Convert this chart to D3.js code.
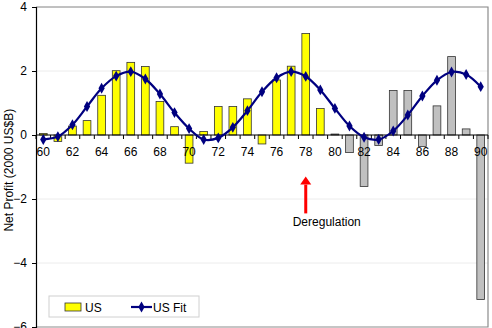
<!DOCTYPE html>
<html>
<head>
<meta charset="utf-8">
<script src="https://cdn.jsdelivr.net/npm/d3@7"></script>
<style>
  body { margin: 0; background: #fff; }
  svg { font-family: "Liberation Sans", Arial, sans-serif; }
</style>
</head>
<body>
<div id="chart"></div>
<script>
// years 1960..1990 (two-digit labels)
const years = d3.range(60, 91);
const usProfit = [0.05, -0.2, 0.28, 0.45, 1.24, 2.01, 2.27, 2.14, 1.05, 0.26,
  -0.88, 0.11, 0.89, 0.89, 1.13, -0.28, 1.72, 2.15, 3.17, 0.83,
  0.03, -0.55, -1.61, -0.33, 1.39, 1.39, -0.36, 0.91, 2.45, 0.19, -5.14];
const usFit = [-0.14, -0.05, 0.32, 0.89, 1.46, 1.84, 1.98, 1.75, 1.28, 0.70,
  0.20, -0.14, -0.09, 0.24, 0.76, 1.35, 1.79, 1.98, 1.83, 1.41,
  0.83, 0.28, -0.07, -0.14, 0.125, 0.625, 1.22, 1.71, 1.97, 1.89, 1.51];
const xTickLabels = years.filter(d => d % 2 === 0);
const yTicks = [4, 2, 0, -2, -4, -6];
const legendItems = ["US", "US Fit"];
const annotationYear = 78;
const annotationText = "Deregulation";

const W = 492, H = 328;
const margin = {top: 7, right: 4, bottom: 1, left: 36};
const width = W - margin.left - margin.right,
      height = H - margin.top - margin.bottom;
const fs = 12;

const svg = d3.select("#chart").append("svg")
    .attr("width", W).attr("height", H);

const g = svg.append("g")
    .attr("transform", "translate(" + margin.left + "," + margin.top + ")");

const x = d3.scaleBand().domain(years).range([0, width]).paddingInner(0.47).paddingOuter(0.235);
const xc = d => x(d) + x.bandwidth() / 2;
const step = x.step();
const y = d3.scaleLinear().domain([-6, 4]).range([height, 0]);

// faint gridlines
g.selectAll(".grid").data(yTicks.filter(d => d !== 0 && d !== -6))
  .enter().append("line")
    .attr("x1", 0).attr("x2", width)
    .attr("y1", d => y(d)).attr("y2", d => y(d))
    .attr("stroke", "#ececec").attr("stroke-width", 1);

// plot area frame (top, right, bottom)
g.append("path")
    .attr("d", "M0," + y(4) + "H" + width + "V" + y(-6) + "H0")
    .attr("fill", "none").attr("stroke", "#8c8c8c").attr("stroke-width", 1.2);

// bars
g.selectAll(".bar").data(years)
  .enter().append("rect")
    .attr("x", d => x(d))
    .attr("width", x.bandwidth())
    .attr("y", (d, i) => y(Math.max(0, usProfit[i])))
    .attr("height", (d, i) => Math.abs(y(usProfit[i]) - y(0)))
    .attr("fill", d => d < 80 ? "#ffff00" : "#c0c0c0")
    .attr("stroke", "#333")
    .attr("stroke-width", 0.8);

// y axis
const yAxis = d3.axisLeft(y).tickValues(yTicks).tickSize(4).tickFormat(d3.format("d"));
const ya = g.append("g").call(yAxis);
ya.select(".domain").attr("stroke", "#000").attr("stroke-width", 1.2);
ya.selectAll("text").attr("font-size", fs).attr("fill", "#000").attr("x", -9);

// x axis at zero
const xa = g.append("g").attr("transform", "translate(0," + y(0) + ")");
xa.append("line").attr("x1", 0).attr("x2", width).attr("stroke", "#000").attr("stroke-width", 1.2);
xa.selectAll(".tk").data(d3.range(years.length + 1))
  .enter().append("line")
    .attr("x1", i => i * step).attr("x2", i => i * step)
    .attr("y1", 0).attr("y2", 4)
    .attr("stroke", "#000");
xa.selectAll(".lbl").data(xTickLabels)
  .enter().append("text")
    .attr("x", d => xc(d))
    .attr("y", 21)
    .attr("text-anchor", "middle")
    .attr("font-size", fs)
    .text(d => d);

// fit line
const line = d3.line()
    .x((d, i) => xc(years[i]))
    .y(d => y(d))
    .curve(d3.curveCatmullRom.alpha(0.5));
g.append("path").datum(usFit)
    .attr("d", line)
    .attr("fill", "none")
    .attr("stroke", "#000080")
    .attr("stroke-width", 2.2);

const diamond = d3.symbol().type(d3.symbolDiamond).size(34);
g.selectAll(".mk").data(usFit)
  .enter().append("path")
    .attr("d", diamond)
    .attr("transform", (d, i) => "translate(" + xc(years[i]) + "," + y(d) + ")")
    .attr("fill", "#000080");

// annotation arrow
const ax = xc(annotationYear);
g.append("line")
    .attr("x1", ax).attr("x2", ax)
    .attr("y1", y(-2.45)).attr("y2", y(-1.55))
    .attr("stroke", "#ff0000").attr("stroke-width", 3);
g.append("path")
    .attr("d", "M" + (ax - 5.5) + "," + y(-1.55) + "L" + ax + "," + y(-1.3) + "L" + (ax + 5.5) + "," + y(-1.55) + "Z")
    .attr("fill", "#ff0000");
g.append("text")
    .attr("x", ax + 21).attr("y", y(-2.85))
    .attr("text-anchor", "middle")
    .attr("font-size", fs)
    .text(annotationText);

// y axis title
svg.append("text")
    .attr("transform", "translate(13," + (margin.top + y(-1.1)) + ") rotate(-90)")
    .attr("text-anchor", "middle")
    .attr("font-size", fs)
    .text("Net Profit (2000 US$B)");

// legend
const lg = svg.append("g").attr("transform", "translate(49,296)");
lg.append("rect").attr("width", 150).attr("height", 21)
    .attr("fill", "#fff").attr("stroke", "#d0d0d0");
lg.append("rect").attr("x", 16).attr("y", 7).attr("width", 16).attr("height", 8)
    .attr("fill", "#ffff00").attr("stroke", "#333").attr("stroke-width", 0.8);
lg.append("text").attr("x", 36).attr("y", 15.5).attr("font-size", fs).text(legendItems[0]);
lg.append("line").attr("x1", 82).attr("x2", 103).attr("y1", 11).attr("y2", 11)
    .attr("stroke", "#000080").attr("stroke-width", 2.2);
lg.append("path").attr("d", diamond).attr("transform", "translate(92.5,11)").attr("fill", "#000080");
lg.append("text").attr("x", 104).attr("y", 15.5).attr("font-size", fs).text(legendItems[1]);
</script>
</body>
</html>
